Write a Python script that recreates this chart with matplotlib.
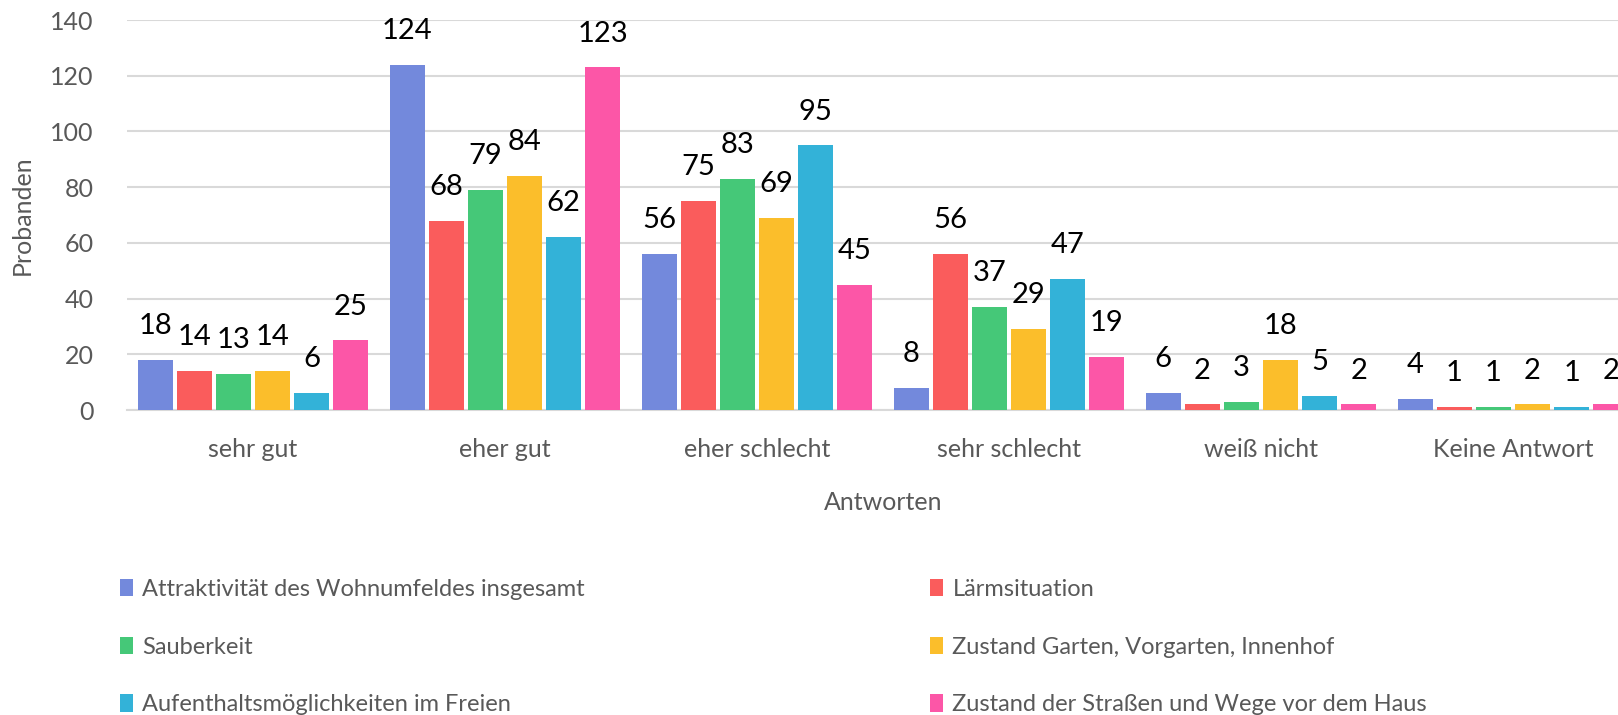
import matplotlib
matplotlib.use("Agg")
import matplotlib.pyplot as plt
import numpy as np
from matplotlib.patches import Patch

plt.rcParams['font.family'] = ['Lato', 'DejaVu Sans']

categories = ["sehr gut", "eher gut", "eher schlecht", "sehr schlecht", "weiß nicht", "Keine Antwort"]
legend_text = ["Attraktivität des Wohnumfeldes insgesamt", "Lärmsituation", "Sauberkeit",
               "Zustand Garten, Vorgarten, Innenhof", "Aufenthaltsmöglichkeiten im Freien",
               "Zustand der Straßen und Wege vor dem Haus"]
attraktivitaet = [18, 124, 56, 8, 6, 4]
laerm = [14, 68, 75, 56, 2, 1]
sauberkeit = [13, 79, 83, 37, 3, 1]
garten = [14, 84, 69, 29, 18, 2]
aufenthalt = [6, 62, 95, 47, 5, 1]
strassen = [25, 123, 45, 19, 2, 2]
yticks = [0, 20, 40, 60, 80, 100, 120, 140]

colors = ["#7389DC", "#FA5C5C", "#45C878", "#FBBE2B", "#33B2D8", "#FC56A7"]
all_series = [attraktivitaet, laerm, sauberkeit, garten, aufenthalt, strassen]

W, H = 1618, 715
fig = plt.figure(figsize=(W / 100, H / 100), dpi=100)
ax_left, ax_right = 127, 1639
ax_top, ax_bot = 20, 410
ax = fig.add_axes([ax_left / W, 1 - ax_bot / H, (ax_right - ax_left) / W, (ax_bot - ax_top) / H])

x = np.arange(len(categories))
step = 0.155
bw = 0.139
grey = "#595959"
for i, (vals, c) in enumerate(zip(all_series, colors)):
    pos = x + (i - 2.5) * step
    bars = ax.bar(pos, vals, width=bw, color=c, zorder=3)
    ax.bar_label(bars, labels=[str(v) for v in vals], padding=15, fontsize=21, color="black")

ax.set_xlim(-0.5, 5.5)
ax.set_ylim(0, 140)
ax.set_yticks(yticks)
ax.set_yticklabels([str(t) for t in yticks], fontsize=18, color=grey)
ax.set_xticks(x)
ax.set_xticklabels(categories, fontsize=18, color=grey)
ax.tick_params(axis='both', length=0)
ax.tick_params(axis='x', pad=20)
ax.tick_params(axis='y', pad=24)
ax.grid(axis='y', color="#D9D9D9", linewidth=1.5, zorder=0)
for s in ["top", "right", "left"]:
    ax.spines[s].set_visible(False)
ax.spines["bottom"].set_color("#D9D9D9")
ax.spines["bottom"].set_linewidth(1.5)
ax.set_ylabel("Probanden", fontsize=18, color=grey, labelpad=12)
ax.set_xlabel("Antworten", fontsize=18, color=grey, labelpad=22)

handles = [Patch(facecolor=c, edgecolor='none') for c in colors]

for col, xpos in [(0, 120), (1, 930)]:
    idx = [col, col + 2, col + 4]
    fig.legend([handles[k] for k in idx], [legend_text[k] for k in idx],
               loc='upper left', bbox_to_anchor=(xpos / W, 1 - 579 / H),
               frameon=False, fontsize=17, labelcolor=grey,
               handlelength=0.55, handleheight=0.75, handletextpad=0.4,
               labelspacing=1.55, borderpad=0, borderaxespad=0)

fig.savefig("out.png", dpi=100, facecolor="white")
